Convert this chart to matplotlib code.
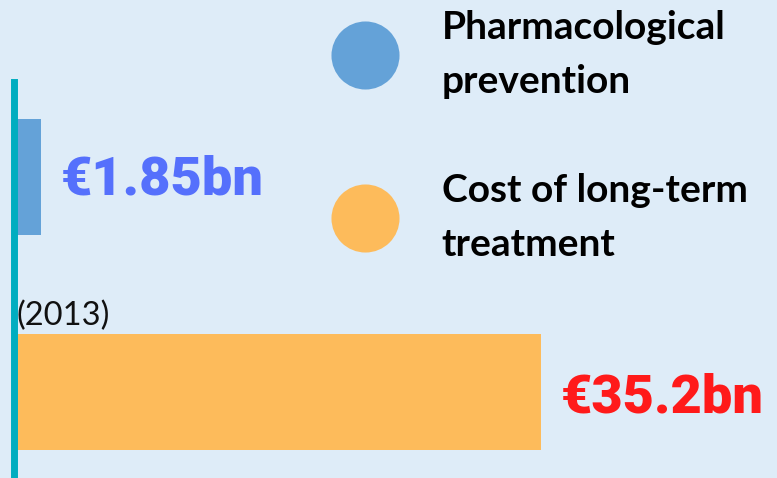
import matplotlib
matplotlib.use("Agg")
import matplotlib.pyplot as plt
from matplotlib.lines import Line2D

# data
categories = ["Pharmacological\nprevention", "Cost of long-term\ntreatment"]
values = [1.85, 35.2]
value_labels = ["€1.85bn", "€35.2bn"]
year_note = "(2013)"

bg = "#deecf8"
bar_colors = ["#64a2d8", "#fdbb5b"]
label_colors = ["#5570fc", "#ff1a1a"]
teal = "#00adc0"

W, H = 777, 478
fig = plt.figure(figsize=(W / 100, H / 100), dpi=100, facecolor=bg)
ax = fig.add_axes([13.5 / W, 0, 1 - 13.5 / W, 396 / H])
ax.set_facecolor(bg)

ypos = [0, 1]
ax.barh(ypos, values, height=0.541, color=bar_colors, zorder=2)
ax.set_xlim(0, 50.95)
ax.set_ylim(1.403, -0.443)

for s in ["top", "right", "bottom"]:
    ax.spines[s].set_visible(False)
ax.spines["left"].set_color(teal)
ax.spines["left"].set_linewidth(5.0)
ax.spines["left"].set_zorder(3)
ax.set_xticks([])
ax.set_yticks([])

offsets = [-2, -5]
for y, v, lab, c, dy in zip(ypos, values, value_labels, label_colors, offsets):
    ax.annotate(lab, (v, y), xytext=(14, dy), textcoords="offset points",
                va="center", ha="left", color=c, fontsize=39,
                fontfamily="Roboto", fontweight="black")

ax.annotate(year_note, (0, 1 - 0.541 / 2), xytext=(2, 2), textcoords="offset points",
            va="bottom", ha="left", fontsize=23.5, fontfamily="Lato", color="#111111")

handles = [Line2D([], [], marker="o", linestyle="none", markersize=49,
                  markerfacecolor=c, markeredgecolor="none") for c in bar_colors]
leg = fig.legend(handles, categories, loc="upper left", bbox_to_anchor=(329 / W, 1 - 10 / H),
                 frameon=False, borderpad=0, borderaxespad=0,
                 prop={"family": "Lato", "weight": "bold", "size": 28},
                 labelspacing=1.9, handlelength=1.85, handletextpad=1.05)
for t in leg.get_texts():
    t.set_linespacing(1.65)

fig.savefig("out.png", dpi=100, facecolor=bg)
